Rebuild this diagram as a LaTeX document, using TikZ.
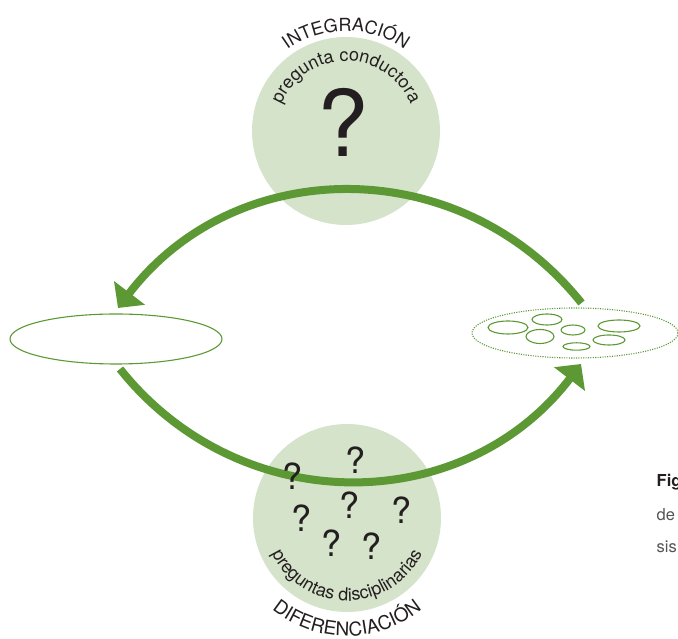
\documentclass[tikz,border=0pt]{standalone}
\usepackage{fontspec}
\setmainfont{TeX Gyre Heros}
\usetikzlibrary{shapes.geometric,arrows.meta,decorations.text}
\definecolor{leaf}{RGB}{92,153,52}
\definecolor{pale}{RGB}{214,227,203}
\definecolor{ink}{RGB}{35,31,32}
\definecolor{greyink}{RGB}{85,85,85}
\newcommand{\arcfont}{\fontsize{18}{18}\selectfont}
\newcommand{\capfont}{\fontsize{16.5}{16.5}\selectfont}

\begin{document}
\begin{tikzpicture}[x=1pt,y=1pt,
  disc/.style={shape=circle,minimum size=188pt,inner sep=0pt,fill=pale},
  field/.style={shape=ellipse,minimum width=212pt,minimum height=50pt,inner sep=0pt,draw=leaf,line width=1.1pt},
  flow/.style={draw=leaf,line width=8pt,-{Triangle[length=19pt,width=38pt]}},
  qmark/.style={text=ink,font=\fontsize{36}{36}\selectfont,inner sep=0pt},
  arctext/.style={decorate,decoration={text along path,text align=center,text color=ink,text={|\arcfont|#1}}}]
\useasboundingbox (0,0) rectangle (678,639);
%[line width=1.1pt]
\path (346,508) node (integ) [disc] {};
\path (347,121) node (difer) [disc] {};
\path (116,300) node (parts) [field] {};
\path (575,306) node (whole) [field,minimum width=206pt,dash pattern=on 1.1pt off 1.3pt] {};
\foreach \cx/\cy/\rx/\ry in {508/311.5/20/6.5, 547/319.5/15/5.5, 540/302.5/14/7, 573/309/12/5, 576.5/292.5/13.5/3.7, 619/313/21/6, 609/299/16/5}
  \draw [leaf,line width=1.1pt] (\cx,\cy) ellipse [x radius=\rx pt,y radius=\ry pt];

\coordinate (upfrom) at (581.5,336);
\coordinate (upto) at (118,331);
\coordinate (downfrom) at (120,270);
\coordinate (downto) at (581,275);
\draw [flow] (upfrom) to [bend right=52,looseness=1.07] (upto);
\draw [flow] (downfrom) to [bend right=52,looseness=1.07] (downto);

\path (343.5,516.5) node (bigq) [qmark,font=\fontsize{92}{92}\selectfont] {?};
\foreach \qx/\qy [count=\i] in {293/162.5, 356/179, 350/134, 402/129, 302/120.5, 332/95.5, 372/92.5}
  \path (\qx,\qy) node (q\i) [qmark] {?};

\path [arctext=INTEGRACIÓN] (integ.center) ++(160:100pt) arc [start angle=160,end angle=20,radius=100pt];
\path [arctext=pregunta conductora] (integ.center) ++(175:70pt) arc [start angle=175,end angle=5,radius=70pt];
\path [arctext=preguntas disciplinarias] (difer.center) ++(190:83pt) arc [start angle=190,end angle=350,radius=83pt];
\path [decorate,decoration={text along path,text align=center,text color=ink,text={|\fontsize{19}{19}\selectfont|DIFERENCIACIÓN}}]
  (difer.center) ++(200:118pt) arc [start angle=200,end angle=340,radius=118pt];

\path (656.5,152) node (figword) [anchor=base west,inner sep=0pt,text=ink,font=\capfont\bfseries] {Fig};
\path (656.5,118) node (deword) [anchor=base west,inner sep=0pt,text=greyink,font=\capfont] {de};
\path (656.5,86) node (sisword) [anchor=base west,inner sep=0pt,text=greyink,font=\capfont] {sis};
\end{tikzpicture}
\end{document}
